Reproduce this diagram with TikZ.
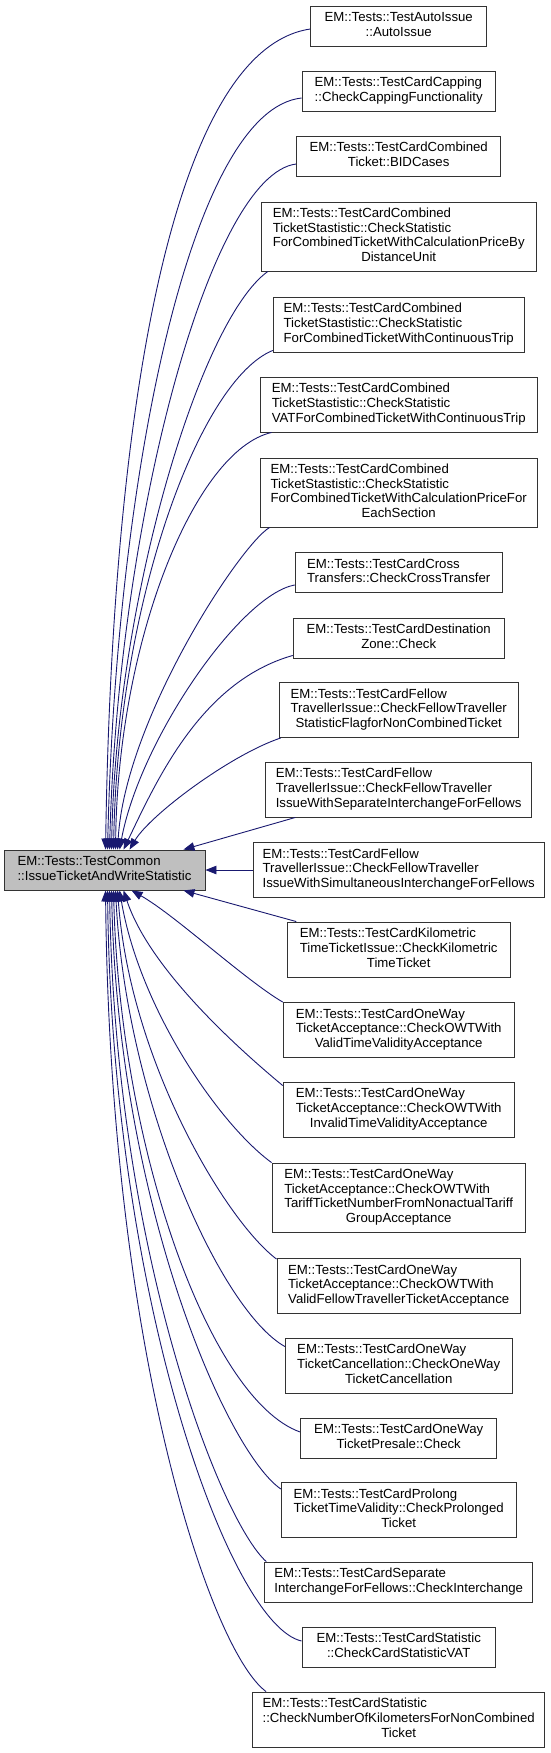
\documentclass[tikz,border=0pt]{standalone}
\usepackage{fontspec}
\setmainfont{Liberation Sans}
\usetikzlibrary{arrows.meta,calc}
\definecolor{edgeblue}{HTML}{191970}
\definecolor{boxline}{HTML}{333333}
\definecolor{mainfill}{HTML}{BFBFBF}
\newcommand\dlab[2]{\begin{tabular}{@{}l@{}}#1\\\multicolumn{1}{@{}c@{}}{#2}\end{tabular}}
\tikzset{
  fn/.style={draw=boxline, line width=0.9pt, fill=white, inner sep=0pt, anchor=center,
    font=\fontsize{13.2}{14.7}\selectfont},
  two/.style={fn, minimum height=40pt},
  three/.style={fn, minimum height=55pt},
  four/.style={fn, minimum height=69pt},
  edge/.style={draw=edgeblue, line width=0.9pt, arrows={Triangle[length=11pt,width=8.5pt]-}},
}
\begin{document}
\begin{tikzpicture}[x=1pt,y=-1pt]
\useasboundingbox (0,0) rectangle (551,1753);
% main node
\node[two, fill=mainfill, minimum width=201pt] (main) at (104.5,870)
  {\dlab{EM::Tests::TestCommon}{::IssueTicketAndWriteStatistic}};
% callers
\node[two, minimum width=176pt] (b1) at (398.7,26) {\dlab{EM::Tests::TestAutoIssue}{::AutoIssue}};
\node[two, minimum width=193.4pt] (b2) at (398.7,91) {\dlab{EM::Tests::TestCardCapping}{::CheckCappingFunctionality}};
\node[two, minimum width=204.3pt] (b3) at (398.7,156) {\dlab{EM::Tests::TestCardCombined}{Ticket::BIDCases}};
\node[four, minimum width=274.8pt] (b4) at (398.7,236.5) {\dlab{EM::Tests::TestCardCombined\\TicketStastistic::CheckStatistic\\ForCombinedTicketWithCalculationPriceBy}{DistanceUnit}};
\node[three, minimum width=251pt] (b5) at (398.7,324.5) {\dlab{EM::Tests::TestCardCombined\\TicketStastistic::CheckStatistic}{ForCombinedTicketWithContinuousTrip}};
\node[three, minimum width=277.3pt] (b6) at (398.7,404.5) {\dlab{EM::Tests::TestCardCombined\\TicketStastistic::CheckStatistic}{VATForCombinedTicketWithContinuousTrip}};
\node[four, minimum width=277.3pt] (b7) at (398.7,492.5) {\dlab{EM::Tests::TestCardCombined\\TicketStastistic::CheckStatistic\\ForCombinedTicketWithCalculationPriceFor}{EachSection}};
\node[two, minimum width=207pt] (b8) at (398.7,572.5) {\dlab{EM::Tests::TestCardCross}{Transfers::CheckCrossTransfer}};
\node[two, minimum width=211pt] (b9) at (398.7,638) {\dlab{EM::Tests::TestCardDestination}{Zone::Check}};
\node[three, minimum width=239pt] (b10) at (398.7,710) {\dlab{EM::Tests::TestCardFellow\\TravellerIssue::CheckFellowTraveller}{StatisticFlagforNonCombinedTicket}};
\node[three, minimum width=265.8pt] (b11) at (398.7,789.5) {\dlab{EM::Tests::TestCardFellow\\TravellerIssue::CheckFellowTraveller}{IssueWithSeparateInterchangeForFellows}};
\node[three, minimum width=291pt] (b12) at (398.7,870) {\dlab{EM::Tests::TestCardFellow\\TravellerIssue::CheckFellowTraveller}{IssueWithSimultaneousInterchangeForFellows}};
\node[three, minimum width=223pt] (b13) at (398.7,949.5) {\dlab{EM::Tests::TestCardKilometric\\TimeTicketIssue::CheckKilometric}{TimeTicket}};
\node[three, minimum width=231pt] (b14) at (398.7,1030) {\dlab{EM::Tests::TestCardOneWay\\TicketAcceptance::CheckOWTWith}{ValidTimeValidityAcceptance}};
\node[three, minimum width=231pt] (b15) at (398.7,1109.5) {\dlab{EM::Tests::TestCardOneWay\\TicketAcceptance::CheckOWTWith}{InvalidTimeValidityAcceptance}};
\node[four, minimum width=253.4pt] (b16) at (398.7,1197.5) {\dlab{EM::Tests::TestCardOneWay\\TicketAcceptance::CheckOWTWith\\TariffTicketNumberFromNonactualTariff}{GroupAcceptance}};
\node[three, minimum width=243.5pt] (b17) at (398.7,1286) {\dlab{EM::Tests::TestCardOneWay\\TicketAcceptance::CheckOWTWith}{ValidFellowTravellerTicketAcceptance}};
\node[three, minimum width=226.7pt] (b18) at (398.7,1365.5) {\dlab{EM::Tests::TestCardOneWay\\TicketCancellation::CheckOneWay}{TicketCancellation}};
\node[two, minimum width=196.2pt] (b19) at (398.7,1438) {\dlab{EM::Tests::TestCardOneWay}{TicketPresale::Check}};
\node[three, minimum width=234.8pt] (b20) at (398.7,1510) {\dlab{EM::Tests::TestCardProlong\\TicketTimeValidity::CheckProlonged}{Ticket}};
\node[two, minimum width=268pt] (b21) at (398.7,1582) {\dlab{EM::Tests::TestCardSeparate}{InterchangeForFellows::CheckInterchange}};
\node[two, minimum width=193.4pt] (b22) at (398.7,1647) {\dlab{EM::Tests::TestCardStatistic}{::CheckCardStatisticVAT}};
\node[three, minimum width=292.4pt] (b23) at (398.7,1719.5) {\dlab{EM::Tests::TestCardStatistic\\::CheckNumberOfKilometersForNonCombined}{Ticket}};
% edges above
\draw[edge] ($(main.north west)+(102,0)$) .. controls (112,420) and (170,50) .. ($(b1.west)+(0,3)$);
\draw[edge] ($(main.north west)+(104,0)$) .. controls (116,480) and (190,110) .. ($(b2.west)+(0,7)$);
\draw[edge] ($(main.north west)+(106,0)$) .. controls (118,520) and (210,175) .. ($(b3.west)+(0,8)$);
\draw[edge] ($(main.north west)+(108,0)$) .. controls (116,600) and (200,320) .. ($(b4.south west)+(7,0)$);
\draw[edge] ($(main.north west)+(110,0)$) .. controls (118,600) and (200,380) .. ($(b5.south west)+(0,-2)$);
\draw[edge] ($(main.north west)+(112,0)$) .. controls (118,640) and (195,450) .. ($(b6.south west)+(12,0)$);
\draw[edge] ($(main.north west)+(114,0)$) .. controls (125,720) and (240,545) .. ($(b7.south west)+(10,0)$);
\draw[edge] ($(main.north west)+(116,0)$) .. controls (140,740) and (240,595) .. ($(b8.south west)+(0,-8)$);
\draw[edge] ($(main.north west)+(120,0)$) .. controls (159,775) and (203,681) .. ($(b9.south west)+(0,-3)$);
\draw[edge] ($(main.north west)+(126,0)$) .. controls (150,815) and (230,755) .. ($(b10.south west)+(2,0)$);
\draw[edge] ($(main.north east)+(-22,0)$) -- ($(b11.south west)+(30,0)$);
\draw[edge] (main.east) -- (b12.west);
% edges below
\draw[edge] ($(main.south east)+(-22,0)$) -- ($(b13.north west)+(9.5,0)$);
\draw[edge] ($(main.south west)+(128,0)$) .. controls (175,915) and (245,980) .. (b14.north west);
\draw[edge] ($(main.south west)+(120,0)$) .. controls (150,970) and (240,1050) .. ($(b15.north west)+(0,4)$);
\draw[edge] ($(main.south west)+(116,0)$) .. controls (140,1010) and (220,1125) .. (b16.north west);
\draw[edge] ($(main.south west)+(114,0)$) .. controls (130,1060) and (225,1220) .. ($(b17.north west)+(0,1)$);
\draw[edge] ($(main.south west)+(112,0)$) .. controls (126,1100) and (220,1310) .. ($(b18.north west)+(0,9)$);
\draw[edge] ($(main.south west)+(110,0)$) .. controls (120,1150) and (210,1400) .. ($(b19.west)+(0,-6)$);
\draw[edge] ($(main.south west)+(108,0)$) .. controls (118,1200) and (225,1450) .. ($(b20.north west)+(0,7)$);
\draw[edge] ($(main.south west)+(106,0)$) .. controls (115,1250) and (220,1520) .. ($(b21.north west)+(2,0)$);
\draw[edge] ($(main.south west)+(104,0)$) .. controls (112,1300) and (230,1625) .. ($(b22.west)+(0,-6)$);
\draw[edge] ($(main.south west)+(102,0)$) .. controls (110,1350) and (210,1650) .. ($(b23.north west)+(14,0)$);
\end{tikzpicture}
\end{document}
